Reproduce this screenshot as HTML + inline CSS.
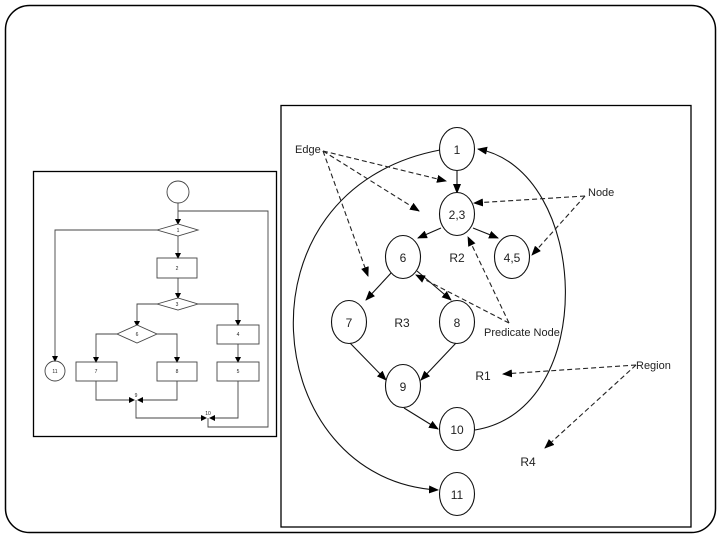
<!DOCTYPE html>
<html><head><meta charset="utf-8"><style>
html,body{margin:0;padding:0;background:#fff;width:720px;height:540px;overflow:hidden}
svg{display:block}
text{font-family:"Liberation Sans",sans-serif;fill:#222}
</style></head><body>
<svg width="720" height="540" viewBox="0 0 720 540" xmlns="http://www.w3.org/2000/svg">
<defs>
<marker id="a" markerWidth="10" markerHeight="8" refX="9" refY="4" orient="auto" markerUnits="userSpaceOnUse"><path d="M0,0 L10,4 L0,8 z" fill="#000"/></marker>
<marker id="s" markerWidth="6" markerHeight="6" refX="5" refY="3" orient="auto" markerUnits="userSpaceOnUse"><path d="M0,0 L6,3 L0,6 z" fill="#000"/></marker>
</defs>
<rect x="5.5" y="5.5" width="710" height="527" rx="24" fill="none" stroke="#000" stroke-width="1.5"/>

<!-- left flowchart -->
<g stroke="#444" stroke-width="0.9" fill="none">
<rect x="33.5" y="171.5" width="243" height="265" stroke="#000" stroke-width="1.3"/>
<circle cx="178" cy="192" r="11"/>
<path d="M178,203 V224" marker-end="url(#s)"/>
<path d="M178,211 H268 V427 H208 V418"/>
<polygon points="157,230 178,224 198,230 178,236" fill="#fff"/>
<path d="M157,230 H55 V361" marker-end="url(#s)"/>
<circle cx="55" cy="371" r="10"/>
<path d="M178,236 V258" marker-end="url(#s)"/>
<rect x="157" y="258" width="40" height="20"/>
<path d="M178,278 V298" marker-end="url(#s)"/>
<polygon points="157,304 178,298 198,304 178,310" fill="#fff"/>
<path d="M157,304 H137 V326" marker-end="url(#s)"/>
<path d="M198,304 H238 V325" marker-end="url(#s)"/>
<polygon points="117,334 137,325 157,334 137,343" fill="#fff"/>
<rect x="217" y="325" width="42" height="19"/>
<path d="M117,334 H96 V362" marker-end="url(#s)"/>
<path d="M157,334 H177 V362" marker-end="url(#s)"/>
<path d="M238,344 V362" marker-end="url(#s)"/>
<rect x="76" y="362" width="41" height="19"/>
<rect x="157" y="362" width="40" height="19"/>
<rect x="217" y="362" width="42" height="19"/>
<path d="M96,381 V400 H134" marker-end="url(#s)"/>
<path d="M177,381 V400 H138" marker-end="url(#s)"/>
<path d="M136,400 V418 H206" marker-end="url(#s)"/>
<path d="M238,381 V418 H210" marker-end="url(#s)"/>
</g>
<g font-size="5" text-anchor="middle">
<text x="178" y="232">1</text><text x="177" y="270">2</text><text x="177" y="306">3</text>
<text x="137" y="336">6</text><text x="238" y="336">4</text><text x="96" y="373">7</text>
<text x="177" y="373">8</text><text x="238" y="373">5</text><text x="55" y="373">11</text>
<text x="136" y="397">9</text><text x="208" y="415">10</text>
</g>

<!-- right graph -->
<rect x="281" y="105.5" width="410" height="421.5" fill="none" stroke="#000" stroke-width="1.3"/>
<g stroke="#111" stroke-width="1.1" fill="none">
<path d="M440,150 C230,190 260,480 438,490" marker-end="url(#a)"/>
<path d="M475,430 C600,410 590,170 478,149" marker-end="url(#a)"/>
<path d="M457,171 V193" marker-end="url(#a)"/>
<path d="M441,228 L418,238" marker-end="url(#a)"/>
<path d="M473,228 L498,238" marker-end="url(#a)"/>
<path d="M392,272 L366,300" marker-end="url(#a)"/>
<path d="M417,271 L451,300" marker-end="url(#a)"/>
<path d="M350,343 L386,380" marker-end="url(#a)"/>
<path d="M456,343 L421,380" marker-end="url(#a)"/>
<path d="M404,408 L438,429" marker-end="url(#a)"/>
</g>
<g stroke="#111" stroke-width="1.1" fill="#fff">
<ellipse cx="457" cy="149" rx="17.5" ry="21.5"/>
<ellipse cx="457" cy="214" rx="17.5" ry="21.5"/>
<ellipse cx="403" cy="257" rx="17.5" ry="21.5"/>
<ellipse cx="512" cy="257" rx="17.5" ry="21.5"/>
<ellipse cx="349" cy="322" rx="17.5" ry="21.5"/>
<ellipse cx="457" cy="322" rx="17.5" ry="21.5"/>
<ellipse cx="403" cy="386" rx="17.5" ry="21.5"/>
<ellipse cx="457" cy="429" rx="17.5" ry="21.5"/>
<ellipse cx="457" cy="494" rx="17.5" ry="21.5"/>
</g>
<g stroke="#222" stroke-width="1.1" fill="none" stroke-dasharray="5,3">
<path d="M323,151 L446,181" marker-end="url(#a)"/>
<path d="M323,151 L419,211" marker-end="url(#a)"/>
<path d="M323,151 L368,276" marker-end="url(#a)"/>
<path d="M585,196 L474,203" marker-end="url(#a)"/>
<path d="M585,196 L532,255" marker-end="url(#a)"/>
<path d="M509,323 L468,237" marker-end="url(#a)"/>
<path d="M509,323 L416,275" marker-end="url(#a)"/>
<path d="M636,365 L503,374" marker-end="url(#a)"/>
<path d="M636,365 L545,448" marker-end="url(#a)"/>
</g>
<g font-size="12" text-anchor="middle">
<text x="457" y="154">1</text><text x="457" y="219">2,3</text><text x="403" y="262">6</text>
<text x="512" y="262">4,5</text><text x="349" y="327">7</text><text x="457" y="327">8</text>
<text x="403" y="391">9</text><text x="457" y="434">10</text><text x="457" y="499">11</text>
<text x="457" y="262">R2</text><text x="402" y="327">R3</text><text x="483" y="380">R1</text><text x="528" y="466">R4</text>
</g>
<g font-size="11">
<text x="295" y="153">Edge</text>
<text x="588" y="196">Node</text>
<text x="484" y="336">Predicate Node</text>
<text x="636" y="369">Region</text>
</g>
</svg>
</body></html>
